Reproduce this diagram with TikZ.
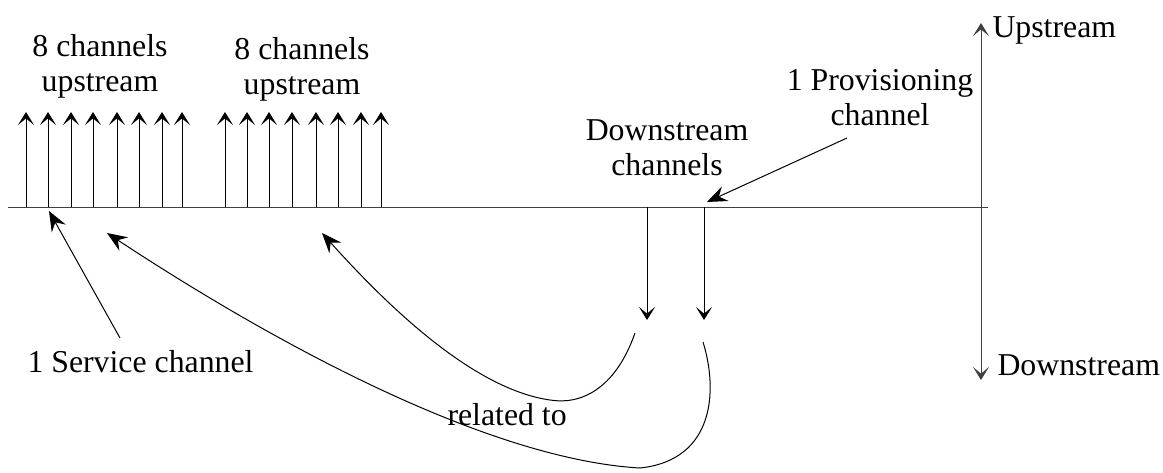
\documentclass[tikz,border=0pt]{standalone}
\usepackage{fontspec}
\setmainfont{Liberation Serif}
\usetikzlibrary{arrows.meta}

\begin{document}
\begin{tikzpicture}[x=0.5pt, y=-0.5pt, line width=0.5pt,
    every node/.style={inner sep=0pt, align=center, font=\fontsize{15.9pt}{17.5pt}\selectfont},
    chan/.style={-{Stealth[length=6.5pt, width=8pt, inset=3.3pt]}},
    pointer/.style={-{Stealth[length=10pt, width=8pt, inset=3.5pt]}}]
\useasboundingbox (0,0) rectangle (1163,472);

\coordinate (axisleft) at (8,207);
\coordinate (axisright) at (988,207);
\draw[black!75] (axisleft) -- (axisright);
\coordinate (axistop) at (981,23);
\coordinate (axisbottom) at (981,380);
\draw[black!75, {Stealth[length=6.5pt, width=8pt, inset=3.3pt]}-{Stealth[length=6.5pt, width=8pt, inset=3.3pt]}] (axistop) -- (axisbottom);
\node[anchor=base west] (upstream) at (992,37) {Upstream};
\node[anchor=base west] (downstream) at (997,375) {Downstream};

\draw[chan] (26,207) -- (26,112);
\draw[chan] (48,207) -- (48,112);
\draw[chan] (71,207) -- (71,112);
\draw[chan] (93,207) -- (93,112);
\draw[chan] (117,207) -- (117,112);
\draw[chan] (139,207) -- (139,112);
\draw[chan] (162,207) -- (162,112);
\draw[chan] (182,207) -- (182,112);
\node[anchor=base] (groupone) at (100,91) {8 channels\\upstream};

\draw[chan] (225,207) -- (225,112);
\draw[chan] (247,207) -- (247,112);
\draw[chan] (269,207) -- (269,112);
\draw[chan] (292,207) -- (292,112);
\draw[chan] (316,207) -- (316,112);
\draw[chan] (338,207) -- (338,112);
\draw[chan] (361,207) -- (361,112);
\draw[chan] (381,207) -- (381,112);
\node[anchor=base] (grouptwo) at (302,94) {8 channels\\upstream};

\draw[chan] (647,207) -- (647,320);
\draw[chan] (704,207) -- (704,320);
\node[anchor=base] (downchans) at (667,175) {Downstream\\channels};

\node[anchor=base] (prov) at (880,125) {1 Provisioning\\channel};
\coordinate (provtail) at (847,138);
\coordinate (provtip) at (707,202);
\draw[pointer] (provtail) -- (provtip);

\node[anchor=base west] (service) at (27,372) {1 Service channel};
\coordinate (servtail) at (120,338);
\coordinate (servtip) at (49,211);
\draw[pointer] (servtail) -- (servtip);

\node[anchor=base west] (related) at (447,425) {related to};
\coordinate (reltailA) at (635,333);
\coordinate (reltipA) at (322,233);
\draw[pointer] (reltailA) .. controls (615,390) and (580,405) .. (550,400)
  .. controls (480,390) and (400,320) .. (reltipA);
\coordinate (reltailB) at (703,342);
\coordinate (reltipB) at (107,233);
\draw[pointer] (reltailB) .. controls (718,390) and (715,460) .. (640,468)
  .. controls (500,460) and (300,360) .. (reltipB);

\end{tikzpicture}
\end{document}
